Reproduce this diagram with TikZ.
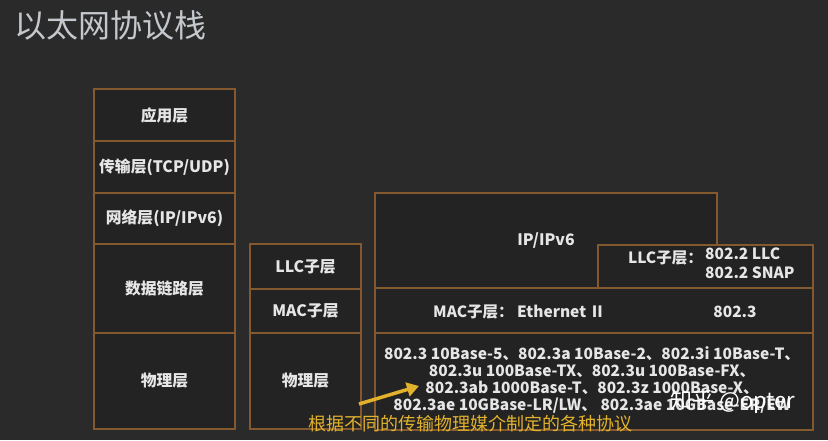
\documentclass[tikz,border=0pt]{standalone}
\usepackage{fontspec}
\setmainfont{Noto Sans CJK SC}
\usetikzlibrary{arrows.meta}
\definecolor{bg}{HTML}{2A2A2A}
\definecolor{boxfill}{HTML}{232323}
\definecolor{edge}{HTML}{85592F}
\definecolor{lbl}{HTML}{E6E6E6}
\definecolor{titlec}{HTML}{C4C8CC}
\definecolor{note}{HTML}{E2B22C}
\tikzset{
  layer/.style={draw=edge, fill=boxfill, line width=1.4pt, inner sep=0pt,
    text=lbl, font=\bfseries\fontsize{15.8}{18}\selectfont},
  lbltext/.style={text=lbl, inner sep=0pt, font=\bfseries\fontsize{15.5}{18}\selectfont},
}
\newcommand{\lay}[6]{% name, x1, y1, x2, y2, text
  \node[layer, minimum width={#4-#2}, minimum height={#5-#3}] (#1) at ({(#2+#4)/2},{(#3+#5)/2}) {#6};}
\begin{document}
\begin{tikzpicture}[x=1pt,y=-1pt]
\fill[bg] (0,0) rectangle (828,440);
\useasboundingbox (0,0) rectangle (828,440);
\node[text=titlec, font=\fontsize{32}{36}\selectfont, anchor=west, inner sep=0pt] (title) at (14,25) {以太网协议栈};
% left column
\lay{app}{94}{89}{235}{141}{应用层}
\lay{trans}{94}{141}{235}{193}{传输层(TCP/UDP)}
\lay{net}{94}{193}{235}{244}{网络层(IP/IPv6)}
\lay{dl}{94}{244}{235}{333}{数据链路层}
\lay{phy}{94}{333}{235}{429}{物理层}
% middle column
\lay{llc}{250}{244}{361}{289}{LLC子层}
\lay{mac}{250}{289}{361}{333}{MAC子层}
\lay{phy2}{250}{333}{361}{429}{物理层}
% right column
\lay{ip}{375}{193}{717}{288}{IP/IPv6}
\lay{llcr}{598}{245}{813}{288}{}
\lay{macr}{375}{288}{813}{333}{}
\lay{phyr}{375}{333}{813}{430}{}
\node[lbltext, anchor=east] (llclab) at (703,258) {LLC子层：};
\node[lbltext, anchor=north west, align=left, font=\bfseries\fontsize{15.5}{19}\selectfont] (llcstd) at (705,248) {802.2 LLC\\802.2 SNAP};
\node[lbltext, anchor=west] (maclab) at (433,312) {MAC子层： Ethernet Ⅱ};
\node[lbltext] (macstd) at (735,312) {802.3};
\node[lbltext, align=center, anchor=north, font=\bfseries\fontsize{15.5}{17.2}\selectfont] (phystd) at (592,346) {802.3 10Base-5、802.3a 10Base-2、802.3i 10Base-T、\\802.3u 100Base-TX、802.3u 100Base-FX、\\802.3ab 1000Base-T、802.3z 1000Base-X、\\802.3ae 10GBase-LR/LW、 802.3ae 10GBase-ER/EW};
% annotation
\coordinate (atail) at (359,404);
\coordinate (ahead) at (419,386);
\draw[note, line width=3.5pt, -{Triangle[length=12pt,width=14pt]}] (atail) -- (ahead);
\node[text=note, font=\fontsize{18}{20}\selectfont, inner sep=0pt] (notetext) at (470,424) {根据不同的传输物理媒介制定的各种协议};
\node[text=white, font=\fontsize{22}{24}\selectfont, inner sep=0pt] (wm) at (733,402) {知乎 @opter};
\end{tikzpicture}
\end{document}
